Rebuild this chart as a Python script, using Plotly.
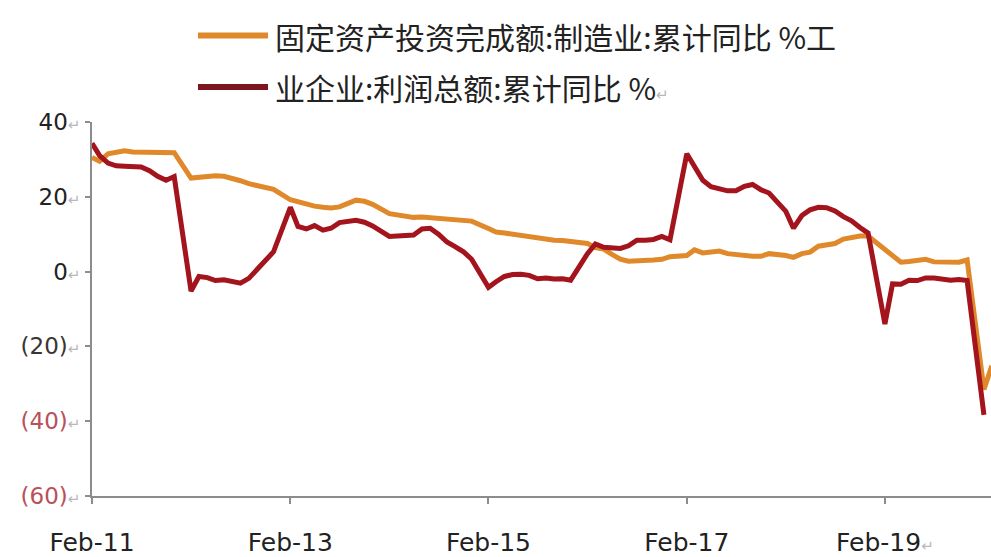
import plotly.graph_objects as go

# Cumulative YoY growth (%), monthly Feb..Dec of each year (January not published)
years = [2011, 2012, 2013, 2014, 2015, 2016, 2017, 2018, 2019]

fai_mfg = [
    30.5, 29.5, 31.5, 32.0, 32.3, 32.0, 32.0, 31.8, 32.0, 31.9, 31.8,   # 2011
    25.0, 25.3, 25.5, 25.6, 25.5, 25.0, 24.3, 23.5, 23.0, 22.5, 22.0,   # 2012
    19.2, 18.6, 18.0, 17.5, 17.2, 17.0, 17.3, 18.3, 19.1, 18.8, 18.0,   # 2013
    15.5, 15.2, 15.0, 14.5, 14.6, 14.4, 14.2, 14.0, 13.8, 13.6, 13.5,   # 2014
    11.5, 10.6, 10.3, 10.0, 9.7, 9.3, 9.0, 8.5, 8.4, 8.3, 8.1,          # 2015
    7.5, 6.4, 6.0, 4.6, 3.3, 2.8, 2.8, 3.1, 3.1, 3.3, 4.0,              # 2016
    4.3, 5.8, 5.0, 5.1, 5.5, 4.8, 4.5, 4.2, 4.1, 4.1, 4.8,              # 2017
    4.3, 3.8, 4.8, 5.2, 6.8, 7.3, 7.5, 8.7, 9.1, 9.5, 9.5,              # 2018
    5.9, 4.6, 2.5, 2.7, 3.0, 3.3, 2.6, 2.5, 2.6, 2.5, 3.1,              # 2019
    -31.5, -25.2,                                                       # 2020 Feb, Mar
]

profit_ind = [
    34.3, 31.0, 29.0, 28.3, 28.2, 28.2, 28.0, 27.0, 25.5, 24.4, 25.4,   # 2011
    -5.2, -1.3, -1.6, -2.4, -2.2, -2.7, -3.1, -1.8, 0.5, 3.0, 5.3,      # 2012
    17.2, 12.1, 11.4, 12.3, 11.1, 11.6, 13.1, 13.5, 13.7, 13.2, 12.2,   # 2013
    9.4, 9.6, 9.6, 9.8, 11.4, 11.6, 10.0, 7.9, 6.7, 5.3, 3.3,           # 2014
    -4.2, -2.7, -1.3, -0.8, -0.7, -1.0, -1.9, -1.7, -2.0, -1.9, -2.3,   # 2015
    4.8, 7.4, 6.5, 6.4, 6.2, 6.9, 8.4, 8.4, 8.6, 9.4, 8.5,              # 2016
    31.5, 28.3, 24.4, 22.7, 22.0, 21.6, 21.6, 22.8, 23.3, 21.9, 21.0,   # 2017
    16.1, 11.6, 15.0, 16.5, 17.2, 17.1, 16.2, 14.7, 13.6, 11.8, 10.3,   # 2018
    -14.0, -3.3, -3.4, -2.3, -2.4, -1.7, -1.7, -2.1, -2.3, -2.1, -2.4,  # 2019
    -38.3,                                                              # 2020 Feb
]

name_fai = "固定资产投资完成额:制造业:累计同比 %工"
name_profit = "业企业:利润总额:累计同比 %"

x_tick_dates = ["2011-02-01", "2013-02-01", "2015-02-01", "2017-02-01", "2019-02-01"]
x_tick_text = ["Feb-11", "Feb-13", "Feb-15", "Feb-17", "Feb-19"]
y_tick_vals = [-60, -40, -20, 0, 20, 40]
y_tick_text = ["(60)", "(40)", "(20)", "0", "20", "40"]


def month_dates(n):
    """First n month-start dates, Feb..Dec per year, from Feb 2011 on."""
    out = []
    y = years[0]
    while len(out) < n:
        for m in range(2, 13):
            out.append(f"{y}-{m:02d}-01")
            if len(out) == n:
                break
        y += 1
    return out


x_fai = month_dates(len(fai_mfg))
x_profit = month_dates(len(profit_ind))

ORANGE = "#E0892B"
RED = "#A3141D"
MARK = '<span style="font-size:15px;color:#b8b8b8">↵</span>'

fig = go.Figure()
fig.add_trace(go.Scatter(x=x_fai, y=fai_mfg, mode="lines", name=name_fai,
                         line=dict(color=ORANGE, width=5), showlegend=False))
fig.add_trace(go.Scatter(x=x_profit, y=profit_ind, mode="lines", name=name_profit,
                         line=dict(color=RED, width=5), showlegend=False))

# tick labels, negatives in accounting style
y_colors = {"(60)": "#b9505a", "(40)": "#b9505a", "(20)": "#3a3434"}
y_text_html = [f'<span style="color:{y_colors.get(t, "#222")}">{t}</span>{MARK}'
               for t in y_tick_text]
x_text_html = list(x_tick_text)
x_text_html[-1] = x_text_html[-1] + MARK

# plot area geometry (pixels) used for the hand-drawn legend
L, R, T, B = 92, 991, 122, 507


def px(xp):
    return (xp - L) / (R - L)


def py(yp):
    return (B - yp) / (B - T)


legend_rows = [
    (name_fai, ORANGE, 33, ""),
    (name_profit, "#7E1420", 86, MARK),
]
for text, color, yrow, tail in legend_rows:
    fig.add_shape(type="line", xref="paper", yref="paper",
                  x0=px(198), x1=px(268), y0=py(yrow), y1=py(yrow),
                  line=dict(color=color, width=6))
    fig.add_annotation(xref="paper", yref="paper", x=px(273), y=py(yrow),
                       xanchor="left", yanchor="middle", showarrow=False,
                       text=text + tail,
                       font=dict(family="Noto Sans CJK SC", size=30, color="#222222"))

fig.update_layout(
    width=991, height=557,
    margin=dict(l=L, r=991 - R, t=T, b=557 - B),
    paper_bgcolor="white", plot_bgcolor="white",
    showlegend=False,
    xaxis=dict(
        type="date", range=["2011-02-01", "2020-02-27"],
        tickmode="array", tickvals=x_tick_dates, ticktext=x_text_html,
        showgrid=False, zeroline=False,
        showline=True, linecolor="#8c8c8c", linewidth=2,
        ticks="outside", ticklen=6, tickwidth=1.5, tickcolor="#8c8c8c",
        tickfont=dict(family="DejaVu Sans", size=25, color="#222222"),
        ticklabelstandoff=17,
    ),
    yaxis=dict(
        range=[-60, 40],
        tickmode="array", tickvals=y_tick_vals, ticktext=y_text_html,
        showgrid=False, zeroline=False,
        showline=True, linecolor="#8c8c8c", linewidth=2,
        ticks="outside", ticklen=5, tickwidth=1.5, tickcolor="#8c8c8c",
        tickfont=dict(family="DejaVu Sans", size=23, color="#222222"),
    ),
)

fig.write_html("out.html")
